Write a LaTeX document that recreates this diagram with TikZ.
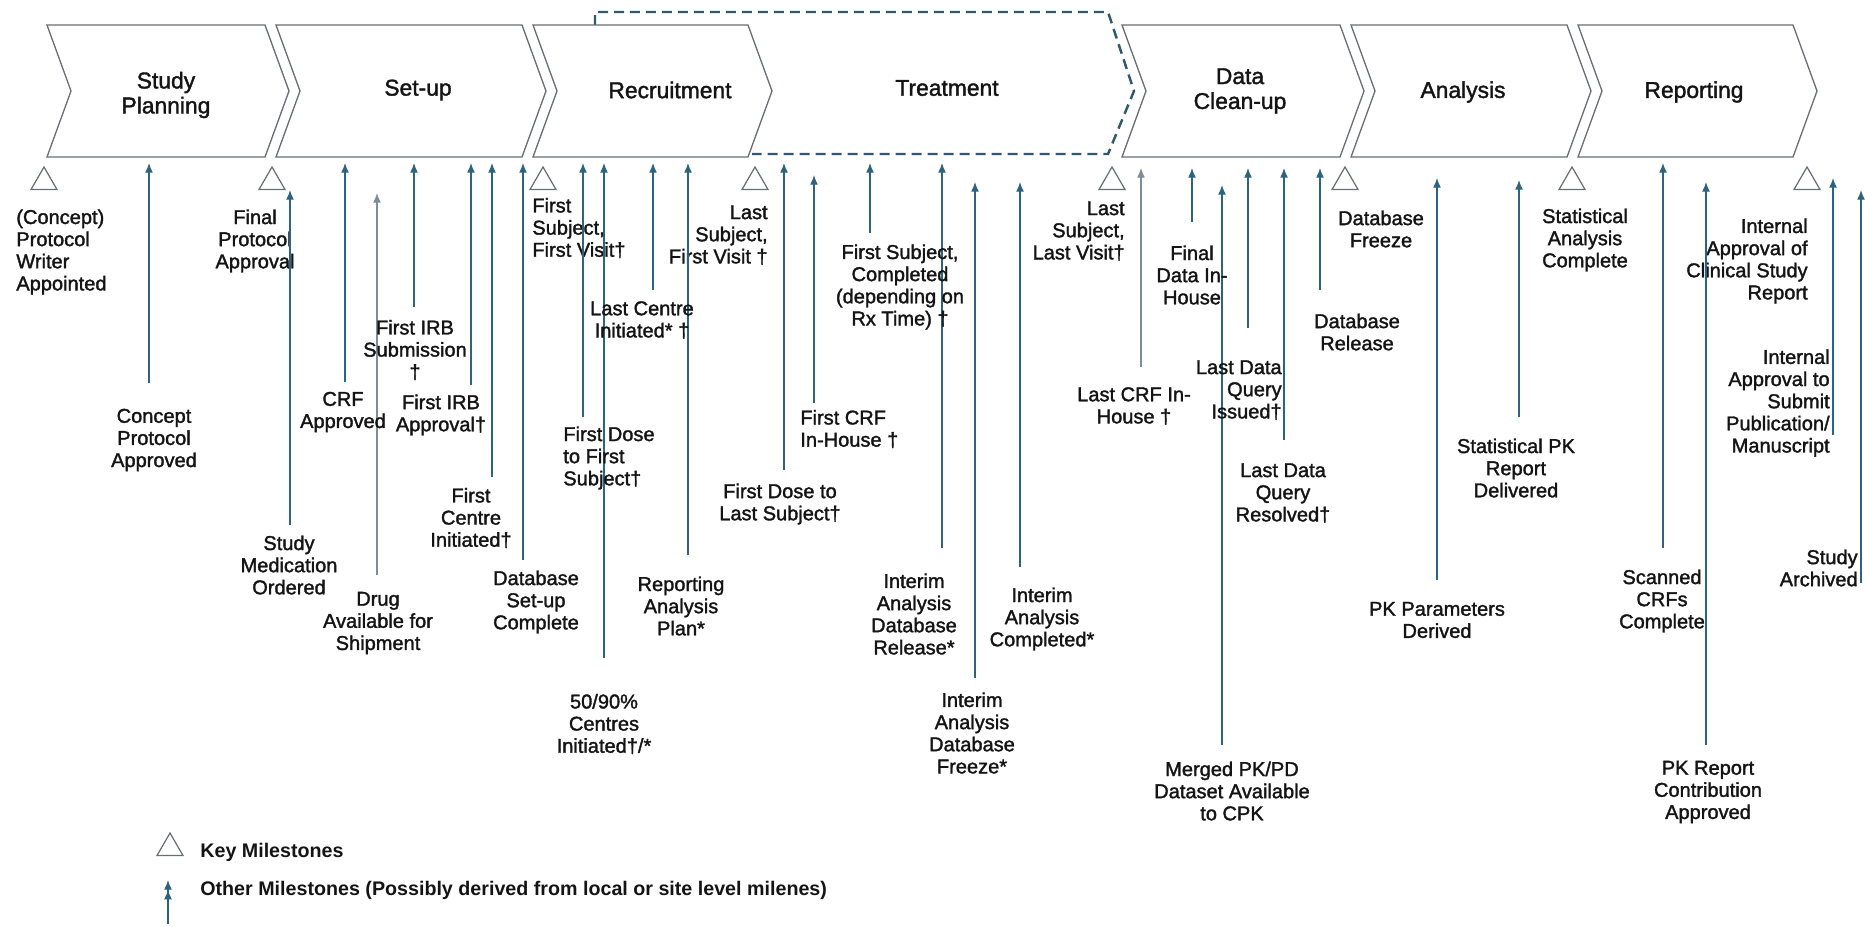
\documentclass[tikz,border=0pt]{standalone}
\usepackage{fontspec}
\setmainfont{Liberation Sans}
\newfontfamily\heavysans{Liberation Sans}[FakeBold=1.6]
\usetikzlibrary{arrows.meta,shapes.geometric}

\definecolor{msline}{RGB}{44,100,128}
\definecolor{mslight}{RGB}{125,142,152}
\definecolor{outline}{RGB}{105,110,115}
\definecolor{dashcol}{RGB}{50,88,110}
\definecolor{txt}{RGB}{20,20,20}

\newcommand\labfont{\heavysans\fontsize{11.4}{12.6}\selectfont}
\newcommand\stagefont{\heavysans\fontsize{13}{14.2}\selectfont}
\newcommand\legfont{\fontsize{11.2}{13}\selectfont\bfseries}

\begin{document}
\begin{tikzpicture}[x=0.02cm,y=-0.02cm,
  chev/.style={draw=outline,line width=0.75pt,line join=miter},
  treat/.style={draw=dashcol,line width=1.4pt,dash pattern=on 0.2cm off 0.12cm},
  stage/.style={font=\stagefont,text=txt,align=center,inner sep=0},
  lab/.style={font=\labfont,text=txt,align=center,inner sep=0},
  labl/.style={lab,align=left,anchor=west},
  labr/.style={lab,align=right,anchor=east},
  legtext/.style={font=\legfont,text=txt,inner sep=0,anchor=west},
  ms/.style={draw=msline,line width=0.7pt,-{Latex[length=5.5pt,width=4.5pt]}},
  mslt/.style={ms,draw=mslight},
  key/.style={draw=outline,line width=0.7pt,regular polygon,regular polygon sides=3,
              minimum size=0.6cm,inner sep=0}
]
\useasboundingbox (0,0) rectangle (1865,926);

% ---------- phase chevrons ----------
\draw[treat] (595,25) -- (595,12) -- (1108,12) -- (1134,91) -- (1108,154) -- (752,154);
\draw[chev] (47,25)   -- (265,25)  -- (289,91)  -- (265,157)  -- (47,157)   -- (71,91)   -- cycle;
\draw[chev] (276,25)  -- (522,25)  -- (546,91)  -- (522,157)  -- (276,157)  -- (300,91)  -- cycle;
\draw[chev] (533,25)  -- (748,25)  -- (772,91)  -- (748,157)  -- (533,157)  -- (557,91)  -- cycle;
\draw[chev] (1122,25) -- (1340,25) -- (1364,91) -- (1340,157) -- (1122,157) -- (1146,91) -- cycle;
\draw[chev] (1351,25) -- (1567,25) -- (1591,91) -- (1567,157) -- (1351,157) -- (1375,91) -- cycle;
\draw[chev] (1578,25) -- (1793,25) -- (1817,91) -- (1793,157) -- (1578,157) -- (1602,91) -- cycle;

\node[stage] (sp)  at (166,95)  {Study\\Planning};
\node[stage] (su)  at (418,90)  {Set-up};
\node[stage] (rec) at (670,90)  {Recruitment};
\node[stage] (trt) at (947,88)  {Treatment};
\node[stage] (dc)  at (1240,91) {Data\\Clean-up};
\node[stage] (an)  at (1463,92) {Analysis};
\node[stage] (rep) at (1694,92) {Reporting};

% ---------- key milestones ----------
\node[key] (k1) at (44,182)   {};
\node[key] (k2) at (272,182)  {};
\node[key] (k3) at (543,182)  {};
\node[key] (k4) at (755,182)  {};
\node[key] (k5) at (1112,182) {};
\node[key] (k6) at (1345,182) {};
\node[key] (k7) at (1572,182) {};
\node[key] (k8) at (1807,182) {};

\node[labl] (k1t) at (16,252)   {(Concept)\\Protocol\\Writer\\Appointed};
\node[lab]  (k2t) at (255,241)  {Final\\Protocol\\Approval};
\node[labl] (k3t) at (532,228)  {First\\Subject,\\First Visit†};
\node[labr] (k4t) at (768,235)  {Last\\Subject,\\First Visit †};
\node[labr] (k5t) at (1125,231) {Last\\Subject,\\Last Visit†};
\node[lab]  (k6t) at (1381,229) {Database\\Freeze};
\node[lab]  (k7t) at (1585,240) {Statistical\\Analysis\\Complete};
\node[labr] (k8t) at (1808,261) {Internal\\Approval of\\Clinical Study\\Report};

% ---------- other milestones: arrow ends ----------
\coordinate (a1b)  at (149,383);  \coordinate (a1t)  at (149,163);
\coordinate (a2b)  at (290,525);  \coordinate (a2t)  at (290,190);
\coordinate (a3b)  at (345,382);  \coordinate (a3t)  at (345,163);
\coordinate (a4b)  at (377,575);  \coordinate (a4t)  at (377,193);
\coordinate (a5b)  at (414,307);  \coordinate (a5t)  at (414,163);
\coordinate (a6b)  at (471,385);  \coordinate (a6t)  at (471,163);
\coordinate (a7b)  at (492,477);  \coordinate (a7t)  at (492,163);
\coordinate (a8b)  at (523,560);  \coordinate (a8t)  at (523,163);
\coordinate (a9b)  at (583,417);  \coordinate (a9t)  at (583,163);
\coordinate (a10b) at (604,658);  \coordinate (a10t) at (604,163);
\coordinate (a11b) at (653,290);  \coordinate (a11t) at (653,163);
\coordinate (a12b) at (688,555);  \coordinate (a12t) at (688,163);
\coordinate (a13b) at (784,470);  \coordinate (a13t) at (784,163);
\coordinate (a14b) at (814,403);  \coordinate (a14t) at (814,175);
\coordinate (a15b) at (870,233);  \coordinate (a15t) at (870,163);
\coordinate (a16b) at (942,548);  \coordinate (a16t) at (942,163);
\coordinate (a17b) at (975,678);  \coordinate (a17t) at (975,182);
\coordinate (a18b) at (1020,567); \coordinate (a18t) at (1020,182);
\coordinate (a19b) at (1141,367); \coordinate (a19t) at (1141,168);
\coordinate (a20b) at (1192,222); \coordinate (a20t) at (1192,168);
\coordinate (a21b) at (1222,745); \coordinate (a21t) at (1222,185);
\coordinate (a22b) at (1248,328); \coordinate (a22t) at (1248,168);
\coordinate (a23b) at (1284,440); \coordinate (a23t) at (1284,168);
\coordinate (a24b) at (1320,290); \coordinate (a24t) at (1320,168);
\coordinate (a25b) at (1437,580); \coordinate (a25t) at (1437,178);
\coordinate (a26b) at (1519,417); \coordinate (a26t) at (1519,180);
\coordinate (a27b) at (1663,548); \coordinate (a27t) at (1663,163);
\coordinate (a28b) at (1706,745); \coordinate (a28t) at (1706,182);
\coordinate (a29b) at (1833,435); \coordinate (a29t) at (1833,178);
\coordinate (a30b) at (1861,583); \coordinate (a30t) at (1861,190);

\foreach \i in {1,2,3,5,6,7,8,9,10,11,12,13,14,15,16,17,18,20,21,22,23,24,25,26,27,28,29,30}
  \draw[ms] (a\i b) -- (a\i t);
\foreach \i in {4,19}
  \draw[mslt] (a\i b) -- (a\i t);

% ---------- other milestones: labels ----------
\node[lab]  (a1l)  at (154,440)  {Concept\\Protocol\\Approved};
\node[lab]  (a2l)  at (289,565)  {Study\\Medication\\Ordered};
\node[lab]  (a3l)  at (343,412)  {CRF\\Approved};
\node[lab]  (a4l)  at (378,623)  {Drug\\Available for\\Shipment};
\node[lab]  (a5l)  at (415,350)  {First IRB\\Submission\\†};
\node[lab]  (a6l)  at (441,415)  {First IRB\\Approval†};
\node[lab]  (a7l)  at (471,518)  {First\\Centre\\Initiated†};
\node[lab]  (a8l)  at (536,602)  {Database\\Set-up\\Complete};
\node[labl] (a9l)  at (563,458)  {First Dose\\to First\\Subject†};
\node[lab]  (a10l) at (604,724)  {50/90\%\\Centres\\Initiated†/*};
\node[lab]  (a11l) at (642,320)  {Last Centre\\Initiated* †};
\node[lab]  (a12l) at (681,606)  {Reporting\\Analysis\\Plan*};
\node[lab]  (a13l) at (780,504)  {First Dose to\\Last Subject†};
\node[labl] (a14l) at (800,429)  {First CRF\\In-House †};
\node[lab]  (a15l) at (900,287)  {First Subject,\\Completed\\(depending on\\Rx Time) †};
\node[lab]  (a16l) at (914,614)  {Interim\\Analysis\\Database\\Release*};
\node[lab]  (a17l) at (972,733)  {Interim\\Analysis\\Database\\Freeze*};
\node[lab]  (a18l) at (1042,619) {Interim\\Analysis\\Completed*};
\node[lab]  (a19l) at (1134,406) {Last CRF In-\\House †};
\node[lab]  (a20l) at (1192,275) {Final\\Data In-\\House};
\node[lab]  (a21l) at (1232,791) {Merged PK/PD\\Dataset Available\\to CPK};
\node[labr] (a22l) at (1282,390) {Last Data\\Query\\Issued†};
\node[lab]  (a23l) at (1283,493) {Last Data\\Query\\Resolved†};
\node[lab]  (a24l) at (1357,332) {Database\\Release};
\node[lab]  (a25l) at (1437,620) {PK Parameters\\Derived};
\node[lab]  (a26l) at (1516,468) {Statistical PK\\Report\\Delivered};
\node[lab]  (a27l) at (1662,601) {Scanned\\CRFs\\Complete};
\node[lab]  (a28l) at (1708,792) {PK Report\\Contribution\\Approved};
\node[labr] (a29l) at (1830,403) {Internal\\Approval to\\Submit\\Publication/\\Manuscript};
\node[labr] (a30l) at (1858,568) {Study\\Archived};

% ---------- legend ----------
\node[key] (legk) at (170,848) {};
\node[legtext] (legkt) at (200,852) {Key Milestones};
\coordinate (lgb) at (168,924);
\coordinate (lgt) at (168,880);
\draw[draw=msline,line width=0.7pt,-{Latex[length=5.5pt,width=4.5pt]Latex[length=5.5pt,width=4.5pt]}] (lgb) -- (lgt);
\node[legtext] (legot) at (200,890) {Other Milestones (Possibly derived from local or site level milenes)};
\end{tikzpicture}
\end{document}
